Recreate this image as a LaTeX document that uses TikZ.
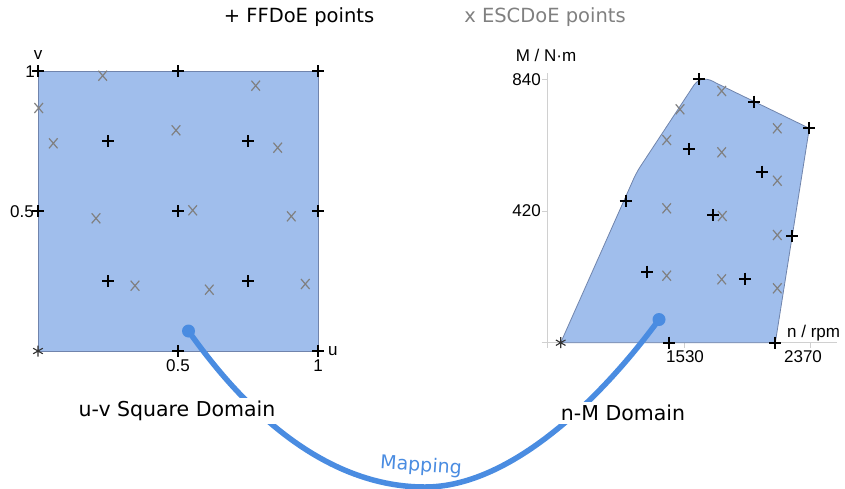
\documentclass[tikz,border=0pt]{standalone}
\usepackage{fontspec}
\setmainfont{DejaVu Sans}
\newfontfamily\axisfont{Liberation Sans}
\definecolor{domainfill}{RGB}{160,190,236}
\definecolor{domainedge}{RGB}{112,132,172}
\definecolor{mapblue}{RGB}{74,140,225}
\definecolor{escgray}{RGB}{128,128,128}
\definecolor{axisgray}{RGB}{208,208,208}

\begin{document}
\begin{tikzpicture}[x=1pt,y=-1pt,
  ffplus/.pic={\draw[line width=1.8pt,black] (-6,0)--(6,0) (0,-6)--(0,6);},
  escx/.pic={\draw[line width=1.2pt,escgray] (-4.3,-5)--(4.3,5) (-4.3,5)--(4.3,-5);},
  bothstar/.pic={\draw[line width=1.1pt,black!80] (0,-5.5)--(0,5.5) (-4.8,-2.75)--(4.8,2.75) (-4.8,2.75)--(4.8,-2.75);},
  axlabel/.style={font=\axisfont\fontsize{17}{17}\selectfont,inner sep=0pt},
  legend/.style={font=\fontsize{19.5}{20}\selectfont,inner sep=0pt},
  domainlabel/.style={font=\fontsize{20.5}{21}\selectfont,fill=white,inner sep=3pt},
  domainshape/.style={fill=domainfill,draw=domainedge,line width=0.8pt},
  axisline/.style={draw=axisgray,line width=0.9pt},
  mapdot/.style={circle,fill=mapblue,inner sep=0pt,minimum size=13pt},
  mapcurve/.style={draw=mapblue,line width=5.5pt}
]
\useasboundingbox (0,0) rectangle (845,488);

% legend
\node[legend] (legFF) at (299,17) {+ FFDoE points};
\node[legend,text=escgray] (legESC) at (545,17) {x ESCDoE points};

% u-v square domain
\draw[domainshape] (38,71) rectangle (318,351);
\node[axlabel] (vlab) at (38,55) {v};
\node[axlabel,anchor=east] (onev) at (35,71.5) {1};
\node[axlabel,anchor=east] (halfv) at (34,212) {0.5};
\node[axlabel,anchor=west] (ulab) at (328,351) {u};
\node[axlabel] (halfu) at (178,366) {0.5};
\node[axlabel] (oneu) at (318,366) {1};

\foreach \p in {(178,71),(318,71),(108,141),(248,141),(38,71),(38,211),(178,211),(318,211),(108,281),(248,281),(178,351),(318,351)}
  \pic at \p {ffplus};
\foreach \p in {(102.7,75.7),(38.7,108),(53.3,143.3),(176,130.3),(255.7,85.7),(277.7,147.7),(96,218.3),(192.7,210.3),(291.3,216.3),(135,285.7),(209.3,289.7),(305.3,284)}
  \pic at \p {escx};
\pic at (38,351) {bothstar};

% n-M domain with its axes
\draw[axisline] (547,73) -- (547,347.5);
\draw[axisline] (541.7,342.7) -- (836.7,342.7);
\draw[axisline] (542,79.5) -- (547,79.5) (542,211) -- (547,211);
\draw[axisline] (684,342.7) -- (684,347.5) (810,342.7) -- (810,347.5);

\draw[domainshape] (560.7,342.7) -- (634,178) .. controls (638,170) .. (644,161)
  -- (694,85) .. controls (700,77) and (708,78) .. (716,83)
  -- (809.3,128.3) -- (775.3,342.7) -- cycle;

\node[axlabel] (Mlab) at (546,55) {M / N·m};
\node[axlabel,anchor=east] (t840) at (541,79.5) {840};
\node[axlabel,anchor=east] (t420) at (541,211) {420};
\node[axlabel,anchor=west] (nlab) at (787,333) {n / rpm};
\node[axlabel] (t1530) at (685,356.5) {1530};
\node[axlabel] (t2370) at (803,356.5) {2370};

\foreach \p in {(699.3,79.3),(754,101.7),(809.3,128.3),(688.7,149.3),(761.7,171.7),(625.7,201),(713.3,215),(792.3,236),(647.3,271.7),(745,278.7),(669.3,342.7),(775.3,342.7)}
  \pic at \p {ffplus};
\foreach \p in {(721.7,91),(680,109.3),(777.3,128.3),(666.7,140),(721.7,152.3),(777.3,180.7),(666.7,208.3),(722.3,216),(777.3,235),(666.7,275.7),(721.7,279.3),(777.3,288.3)}
  \pic at \p {escx};
\pic at (560.7,342.7) {bothstar};

% mapping connector
\node[mapdot] (dotL) at (188.5,331) {};
\node[mapdot] (dotR) at (659,319.5) {};
\coordinate (mapLow) at (425,487);
\draw[mapcurve] (dotL.center) .. controls (259,431) and (340,487) .. (mapLow)
  .. controls (510,487) and (600,400) .. (dotR.center);

\node[domainlabel] (uvlab) at (177,411) {u-v Square Domain};
\node[domainlabel] (nmlab) at (623,413) {n-M Domain};
\node[font=\fontsize{19}{19}\selectfont,text=mapblue,inner sep=0pt,rotate=-4] (maplab) at (421,466) {Mapping};
\end{tikzpicture}
\end{document}
